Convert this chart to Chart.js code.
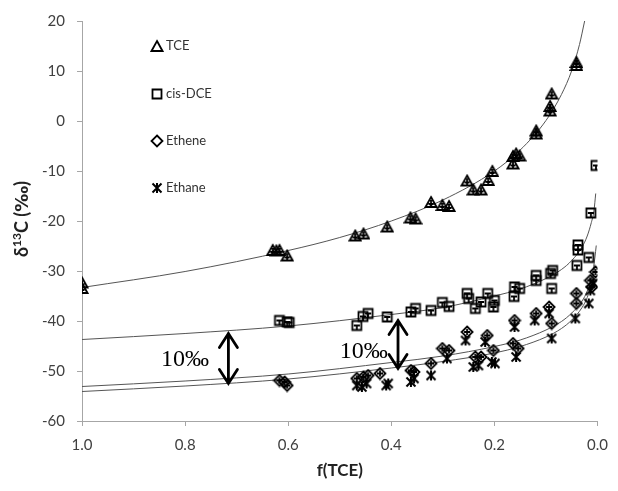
<!DOCTYPE html>
<html lang="en">
<head>
<meta charset="UTF-8">
<title>delta13C vs f(TCE)</title>
<script src="https://cdn.jsdelivr.net/npm/chart.js@4.4.0/dist/chart.umd.min.js"></script>
<style>
  html, body { margin: 0; padding: 0; background: #fff; }
</style>
</head>
<body>
<canvas id="myChart" width="618" height="491"></canvas>
<script>
const tceF = [1.0, 1.0, 0.630, 0.623, 0.617, 0.602, 0.470, 0.454, 0.408, 0.363, 0.353, 0.323, 0.301, 0.288, 0.253, 0.241, 0.226, 0.212, 0.204, 0.164, 0.164, 0.158, 0.151, 0.119, 0.119, 0.092, 0.092, 0.089, 0.041, 0.041];
const tceD = [-32.3, -33.4, -25.8, -25.9, -25.8, -26.9, -22.9, -22.5, -21.1, -19.3, -19.5, -16.2, -16.8, -17.0, -11.9, -13.7, -13.7, -11.8, -10.0, -8.5, -7.0, -6.5, -6.9, -1.9, -2.5, 2.1, 3.0, 5.5, 11.8, 11.2];

const dceF = [0.617, 0.602, 0.598, 0.467, 0.455, 0.445, 0.408, 0.362, 0.353, 0.323, 0.301, 0.288, 0.253, 0.250, 0.237, 0.226, 0.213, 0.202, 0.200, 0.161, 0.162, 0.151, 0.119, 0.119, 0.091, 0.087, 0.089, 0.038, 0.038, 0.040, 0.017, 0.013, 0.003];
const dceD = [-39.9, -40.2, -40.3, -40.9, -39.1, -38.5, -39.2, -38.2, -37.5, -37.9, -36.3, -37.1, -34.5, -35.5, -37.5, -36.2, -34.5, -37.2, -35.9, -33.2, -35.1, -33.5, -30.9, -31.9, -30.5, -29.9, -33.5, -24.8, -25.8, -28.9, -27.3, -18.4, -8.9];

const etheneF = [0.617, 0.607, 0.602, 0.467, 0.454, 0.445, 0.422, 0.362, 0.356, 0.323, 0.301, 0.288, 0.253, 0.237, 0.226, 0.214, 0.202, 0.164, 0.161, 0.154, 0.119, 0.094, 0.089, 0.041, 0.041, 0.014, 0.011, 0.004];
const etheneD = [-51.9, -52.2, -52.9, -51.5, -51.2, -50.9, -50.5, -49.9, -50.2, -48.5, -45.5, -45.9, -42.2, -47.2, -47.2, -42.9, -45.9, -44.5, -39.9, -45.5, -38.5, -37.2, -40.5, -34.5, -36.5, -31.9, -33.2, -30.2];

const ethaneF = [0.467, 0.457, 0.448, 0.410, 0.406, 0.362, 0.356, 0.323, 0.292, 0.256, 0.241, 0.231, 0.218, 0.205, 0.199, 0.161, 0.158, 0.122, 0.094, 0.089, 0.043, 0.017, 0.014, 0.008];
const ethaneD = [-52.9, -53.2, -52.5, -52.9, -52.5, -52.2, -51.5, -50.9, -47.5, -43.9, -49.2, -48.9, -44.2, -48.2, -48.5, -41.2, -47.2, -39.9, -38.5, -43.5, -39.5, -36.5, -33.9, -32.5];

// fitted curves
const tceFitF = [1.0, 0.8, 0.6, 0.5, 0.4, 0.3, 0.2, 0.15, 0.1, 0.07, 0.05, 0.035, 0.025];
const tceFit = [-33.3, -30.1, -25.9, -23.3, -20.0, -15.8, -10.0, -5.8, 0.1, 5.3, 10.1, 15.3, 20.0];
const dceFitF = [1.0, 0.8, 0.6, 0.4, 0.3, 0.2, 0.15, 0.1, 0.07, 0.05, 0.03, 0.02, 0.012, 0.007, 0.0035];
const dceFit = [-43.7, -42.5, -41.0, -38.7, -37.3, -35.0, -33.6, -31.5, -29.7, -27.9, -25.2, -23.0, -20.3, -18.0, -14.5];
const etheneFitF = [1.0, 0.8, 0.6, 0.4, 0.3, 0.2, 0.15, 0.1, 0.07, 0.05, 0.03, 0.02, 0.01, 0.005, 0.0025];
const etheneFit = [-53.1, -52.0, -50.6, -48.3, -47.0, -45.1, -43.8, -41.8, -40.1, -38.4, -36.0, -34.0, -30.7, -27.2, -24.9];
const ethaneFitF = [1.0, 0.8, 0.6, 0.4, 0.3, 0.2, 0.15, 0.1, 0.07, 0.05, 0.03, 0.02, 0.01, 0.005];
const ethaneFit = [-54.1, -53.0, -51.6, -49.4, -48.1, -46.4, -45.1, -43.2, -41.5, -39.8, -37.3, -35.3, -32.0, -28.7];

const seriesNames = ['TCE', 'cis-DCE', 'Ethene', 'Ethane'];

// 10 permil arrows (f, top, bottom) and labels
const arrowF = [0.716, 0.387];
const arrowTop = [-42.5, -39.9];
const arrowBottom = [-52.5, -49.5];
const labelF = [0.847, 0.50];
const labelD = [-48.9, -47.3];

function pts(xs, ys)
{
    return xs.map((x, i) => ({ x: x, y: ys[i] }));
}

// draw a marker into a small canvas so it can be used as pointStyle
function makeMarker(kind, inner)
{
    const s = 14;
    const c = document.createElement('canvas');
    c.width = s; c.height = s;
    const g = c.getContext('2d');
    const m = s / 2;
    g.strokeStyle = '#000';
    g.lineWidth = 1.8;
    g.beginPath();
    if (kind === 'tri') {
        g.moveTo(m, 2); g.lineTo(m + 5.5, 12); g.lineTo(m - 5.5, 12); g.closePath();
        if (inner) { g.moveTo(m, 5); g.lineTo(m, 12); g.moveTo(m - 2.5, 9); g.lineTo(m + 2.5, 9); }
    } else if (kind === 'sq') {
        g.rect(2.5, 2.5, 9, 9);
        if (inner) { g.moveTo(4, 7); g.lineTo(10, 7); g.moveTo(m, 7); g.lineTo(m, 11); }
    } else if (kind === 'dia') {
        g.moveTo(m, 1.5); g.lineTo(12.5, m); g.lineTo(m, 12.5); g.lineTo(1.5, m); g.closePath();
        if (inner) { g.moveTo(m, 4); g.lineTo(m, 10); g.moveTo(4, m); g.lineTo(10, m); }
    } else {
        g.lineWidth = 2;
        g.moveTo(2.5, 2.5); g.lineTo(11.5, 11.5);
        g.moveTo(11.5, 2.5); g.lineTo(2.5, 11.5);
        g.moveTo(m, 2); g.lineTo(m, 12);
    }
    g.stroke();
    return c;
}

const kinds = ['tri', 'sq', 'dia', 'ast'];
const markers = kinds.map(k => makeMarker(k, true));
const legendMarkers = kinds.map(k => makeMarker(k, false));

function scatterSet(label, xs, ys, i)
{
    return {
        label: label,
        data: pts(xs, ys),
        pointStyle: markers[i],
        pointRadius: 6,
        showLine: false,
        order: 0
    };
}

function fitSet(xs, ys)
{
    return {
        label: 'fit',
        data: pts(xs, ys),
        showLine: true,
        borderColor: '#555',
        borderWidth: 1,
        pointRadius: 0,
        cubicInterpolationMode: 'monotone',
        order: 1
    };
}

const extras = {
    id: 'extras',
    afterDatasetsDraw(chart)
    {
        const { ctx, scales: { x, y } } = chart;
        ctx.save();
        // arrows
        ctx.strokeStyle = '#000';
        ctx.lineWidth = 2.8;
        ctx.lineCap = 'round';
        arrowF.forEach((f, i) => {
            const px = x.getPixelForValue(f);
            const t = y.getPixelForValue(arrowTop[i]);
            const b = y.getPixelForValue(arrowBottom[i]);
            ctx.beginPath();
            ctx.moveTo(px, t); ctx.lineTo(px, b);
            ctx.moveTo(px - 9, t + 14); ctx.lineTo(px, t); ctx.lineTo(px + 9, t + 14);
            ctx.moveTo(px - 9, b - 14); ctx.lineTo(px, b); ctx.lineTo(px + 9, b - 14);
            ctx.stroke();
        });
        ctx.fillStyle = '#000';
        ctx.font = '24px "Liberation Serif"';
        ctx.textBaseline = 'alphabetic';
        labelF.forEach((f, i) => {
            ctx.fillText('10\u2030', x.getPixelForValue(f), y.getPixelForValue(labelD[i]));
        });
        // legend
        const lx = 157, ly = [46, 94, 141, 188];
        ctx.font = '13px Lato';
        ctx.fillStyle = '#333';
        ctx.textBaseline = 'middle';
        seriesNames.forEach((n, i) => {
            ctx.drawImage(legendMarkers[i], lx - 7, ly[i] - 7);
            ctx.fillText(n, lx + 9, ly[i]);
        });
        ctx.restore();

        // y axis title with a real superscript
        const parts = [
            { t: '\u03b4', f: 'bold 18px Lato', dy: 0 },
            { t: '13', f: 'bold 12px Lato', dy: -7 },
            { t: 'C (', f: 'bold 18px Lato', dy: 0 },
            { t: '\u2030', f: 'bold 18px "DejaVu Sans"', dy: 0 },
            { t: ')', f: 'bold 18px Lato', dy: 0 }
        ];
        ctx.save();
        let total = 0;
        parts.forEach(p => { ctx.font = p.f; p.w = ctx.measureText(p.t).width; total += p.w; });
        const cy = (chart.chartArea.top + chart.chartArea.bottom) / 2 - 2;
        ctx.translate(28, cy);
        ctx.rotate(-Math.PI / 2);
        ctx.fillStyle = '#222';
        ctx.textBaseline = 'alphabetic';
        let cx = -total / 2;
        parts.forEach(p => {
            ctx.font = p.f;
            ctx.fillText(p.t, cx, p.dy);
            cx += p.w;
        });
        ctx.restore();
    }
};

const ctx = document.getElementById('myChart').getContext('2d');
new Chart(ctx, {
    type: 'scatter',
    data: {
        datasets: [
            scatterSet(seriesNames[0], tceF, tceD, 0),
            scatterSet(seriesNames[1], dceF, dceD, 1),
            scatterSet(seriesNames[2], etheneF, etheneD, 2),
            scatterSet(seriesNames[3], ethaneF, ethaneD, 3),
            fitSet(tceFitF, tceFit),
            fitSet(dceFitF, dceFit),
            fitSet(etheneFitF, etheneFit),
            fitSet(ethaneFitF, ethaneFit)
        ]
    },
    options: {
        responsive: false,
        animation: false,
        layout: { padding: { top: 21, right: 14, left: 0, bottom: 0 } },
        plugins: { legend: { display: false }, tooltip: { enabled: false } },
        scales: {
            x: {
                type: 'linear',
                reverse: true,
                min: 0,
                max: 1,
                afterFit: s => { s.height = 70; },
                ticks: {
                    stepSize: 0.2,
                    padding: 10,
                    color: '#404040',
                    font: { family: 'Lato', size: 15 },
                    callback: v => v.toFixed(1)
                },
                grid: { drawOnChartArea: false, color: '#a6a6a6', tickLength: 5 },
                border: { color: '#a6a6a6' },
                title: {
                    display: true,
                    text: 'f(TCE)',
                    color: '#222',
                    font: { family: 'Lato', size: 17, weight: 'bold' },
                    padding: { top: 0, bottom: 10 }
                }
            },
            y: {
                type: 'linear',
                min: -60,
                max: 20,
                afterFit: s => { s.width = 82; },
                ticks: {
                    stepSize: 10,
                    padding: 12,
                    color: '#404040',
                    font: { family: 'Lato', size: 15 }
                },
                grid: { drawOnChartArea: false, color: '#a6a6a6', tickLength: 5 },
                border: { color: '#a6a6a6' },
                title: { display: false }
            }
        }
    },
    plugins: [extras]
});
</script>
</body>
</html>
